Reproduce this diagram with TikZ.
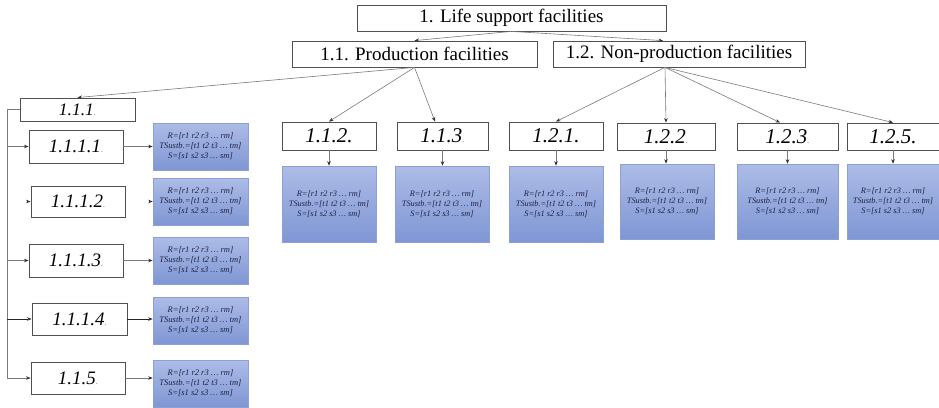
\documentclass[tikz,border=0pt]{standalone}
\usepackage{fontspec}
\setmainfont{Liberation Serif}
\usetikzlibrary{arrows.meta}
\definecolor{boxline}{HTML}{505050}
\definecolor{connc}{HTML}{7A7A7A}
\definecolor{bluetop}{HTML}{ADBCE7}
\definecolor{bluebot}{HTML}{7E96D4}
\definecolor{blueline}{HTML}{8DA0D6}
\definecolor{bluetext}{HTML}{1E2040}
\newcommand{\rtsvec}{R=[r1 r2 r3 … rm]\\TSustb.=[t1 t2 t3 … tm]\\S=[s1 s2 s3 … sm]}
\newcommand{\tdot}{{\color{gray}\fontsize{9}{9}\selectfont.}}
\begin{document}
\begin{tikzpicture}[x=1pt,y=-1pt,
 lbox/.style={draw=boxline, line width=0.8pt, fill=white, inner sep=0pt, font=\fontsize{19}{21}\selectfont},
 ibox/.style={draw=boxline, line width=0.9pt, fill=white, inner sep=0pt, minimum width=94pt, font=\fontsize{19}{21}\selectfont\itshape},
 tbox/.style={ibox, minimum height=28pt, font=\fontsize{21}{23}\selectfont\itshape},
 bbox/.style={draw=blueline, line width=0.6pt, top color=bluetop, bottom color=bluebot, inner sep=0pt, align=center, text=bluetext, minimum width=95pt},
 lblue/.style={bbox, minimum height=47pt, font=\fontsize{8.5}{10}\selectfont\itshape},
 tblue/.style={bbox, minimum width=94pt, font=\fontsize{8.3}{10}\selectfont\itshape},
 arr/.style={draw=connc, line width=0.6pt, -{Stealth[length=4.5pt,width=3.5pt,color=black!80]}},
 darkarr/.style={arr, draw=black!85},
 trunkline/.style={draw=connc, line width=0.7pt},
]
\useasboundingbox (0,0) rectangle (939,407);

% top levels
\node[lbox, minimum width=309pt, minimum height=26pt] (top) at (511.5,18) {1. Life support facilities};
\node[lbox, minimum width=245pt, minimum height=26pt] (p11) at (414.5,54) {1.1. Production facilities};
\node[lbox, minimum width=252pt, minimum height=26pt] (p12) at (679,54) {1.2. Non-production facilities};

% left column
\node[ibox, minimum width=115pt, minimum height=23pt, font=\fontsize{17.5}{19}\selectfont\itshape] (b111) at (77.5,109.5) {1.1.1\tdot};
\node[ibox, minimum height=33pt] (b1111) at (76,146.5) {1.1.1.1\tdot};
\node[ibox, minimum height=31pt] (b1112) at (78,201.5) {1.1.1.2\tdot};
\node[ibox, minimum height=33pt] (b1113) at (76,260.5) {1.1.1.3\tdot};
\node[ibox, minimum width=95pt, minimum height=32pt] (b1114) at (79.5,319) {1.1.1.4\tdot};
\node[ibox, minimum height=32pt] (b115) at (78,378) {1.1.5\tdot};

\node[lblue] (bl1) at (200.5,146.5) {\rtsvec};
\node[lblue] (bl2) at (200.5,201.5) {\rtsvec};
\node[lblue] (bl3) at (200.5,260.5) {\rtsvec};
\node[lblue] (bl4) at (200.5,320.5) {\rtsvec};
\node[lblue] (bl5) at (200.5,383.5) {\rtsvec};

% top row
\node[tbox] (b112) at (329,136) {1.1.2.};
\node[tbox, minimum width=91pt] (b113) at (442.5,136) {1.1.3\tdot};
\node[tbox] (b121) at (556,136) {1.2.1.};
\node[tbox, minimum width=98pt, minimum height=27pt] (b122) at (666,136.5) {1.2.2\tdot};
\node[tbox, minimum width=101pt, minimum height=27pt] (b123) at (787.5,136.5) {1.2.3\tdot};
\node[tbox, minimum width=92pt, minimum height=27pt] (b125) at (893,136.5) {1.2.5.};

\node[tblue, minimum height=76pt] (bl112) at (329,204) {\rtsvec};
\node[tblue, minimum height=76pt] (bl113) at (442,204) {\rtsvec};
\node[tblue, minimum height=76pt] (bl121) at (556,204) {\rtsvec};
\node[tblue, minimum height=75pt] (bl122) at (667,201.5) {\rtsvec};
\node[tblue, minimum width=101pt, minimum height=75pt] (bl123) at (787.5,201.5) {\rtsvec};
\node[tblue, minimum width=92pt, minimum height=75pt] (bl125) at (893,201.5) {\rtsvec};

% connectors from top
\draw[arr] (top.south) -- (p11.north);
\draw[arr] (top.south) -- ([xshift=-16pt]p12.north);

\draw[arr] (p11.south) -- (b111.north);
\draw[arr] (p11.south) -- (b112.north);
\draw[arr] (p11.south) -- ([xshift=-7.5pt]b113.north);

\coordinate (p12s) at ([xshift=-14pt]p12.south);
\draw[arr] (p12s) -- (b121.north);
\draw[arr] (p12s) -- (b122.north);
\draw[arr] (p12s) -- ([xshift=-7.5pt]b123.north);
\draw[arr] (p12s) -- (b125.north);

% vertical arrows top row
\draw[arr] (b112.south) -- (b112.south |- bl112.north);
\draw[arr] (b113.south) -- (b113.south |- bl113.north);
\draw[arr] (b121.south) -- (b121.south |- bl121.north);
\draw[arr] (b122.south) -- (b122.south |- bl122.north);
\draw[arr] (b123.south) -- (b123.south |- bl123.north);
\draw[arr] (b125.south) -- (b125.south |- bl125.north);

% left trunk
\coordinate (trunk) at (7,109.5);
\draw[trunkline] (b111.west) -- (trunk) -- (trunk |- b115.west);
\draw[arr] (trunk |- b1111.west) -- (b1111.west);
\draw[arr] ([xshift=-4pt]b1112.west) -- (b1112.west);
\draw[arr] (trunk |- b1113.west) -- (b1113.west);
\draw[darkarr] (trunk |- b1114.west) -- (b1114.west);
\draw[arr] (trunk |- b115.west) -- (b115.west);

% sub boxes to blue
\coordinate (bl2in) at (b1112.east -| bl2.west);
\draw[arr] (b1111.east) -- (b1111.east -| bl1.west);
\draw[arr] ([xshift=-4pt]bl2in) -- (bl2in);
\draw[arr] (b1113.east) -- (b1113.east -| bl3.west);
\draw[darkarr] (b1114.east) -- (b1114.east -| bl4.west);
\draw[arr] (b115.east) -- (b115.east -| bl5.west);
\end{tikzpicture}
\end{document}
